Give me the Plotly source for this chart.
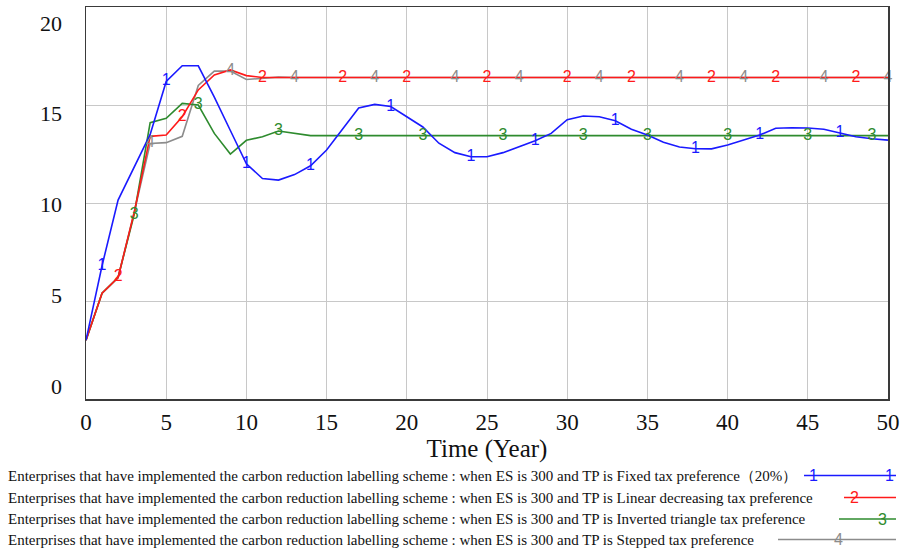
import plotly.graph_objects as go

# ---------------- data ----------------
years = list(range(0, 51))

fixed_tp = [3.0, 6.8, 10.15, 11.8, 13.5, 16.2, 17.0, 17.0, 15.4, 13.7,
            12.0, 11.25, 11.17, 11.45, 11.9, 12.7, 13.75, 14.85, 15.03, 14.92,
            14.4, 13.88, 13.05, 12.57, 12.36, 12.36, 12.57, 12.87, 13.18, 13.55,
            14.25, 14.44, 14.4, 14.2, 13.76, 13.47, 13.1, 12.86, 12.77, 12.76,
            12.96, 13.21, 13.47, 13.81, 13.84, 13.83, 13.76, 13.57, 13.38, 13.28,
            13.21]

linear_tp = [3.0, 5.4, 6.2, 9.5, 13.4, 13.47, 14.4, 15.77, 16.53, 16.79,
             16.5, 16.4, 16.4, 16.4, 16.4, 16.4, 16.4, 16.4, 16.4, 16.4,
             16.4, 16.4, 16.4, 16.4, 16.4, 16.4, 16.4, 16.4, 16.4, 16.4,
             16.4, 16.4, 16.4, 16.4, 16.4, 16.4, 16.4, 16.4, 16.4, 16.4,
             16.4, 16.4, 16.4, 16.4, 16.4, 16.4, 16.4, 16.4, 16.4, 16.4,
             16.4]

inverted_tp = [3.0, 5.4, 6.2, 9.4, 14.1, 14.32, 15.08, 15.0, 13.55, 12.5,
               13.2, 13.38, 13.67, 13.55, 13.44, 13.44, 13.44, 13.44, 13.44, 13.44,
               13.44, 13.44, 13.44, 13.44, 13.44, 13.44, 13.44, 13.44, 13.44, 13.44,
               13.44, 13.44, 13.44, 13.44, 13.44, 13.44, 13.44, 13.44, 13.44, 13.44,
               13.44, 13.44, 13.44, 13.44, 13.44, 13.44, 13.44, 13.44, 13.44, 13.44,
               13.44]

stepped_tp = [3.0, 5.4, 6.2, 9.5, 13.04, 13.08, 13.4, 16.0, 16.73, 16.73,
              16.3, 16.36, 16.42, 16.4, 16.4, 16.4, 16.4, 16.4, 16.4, 16.4,
              16.4, 16.4, 16.4, 16.4, 16.4, 16.4, 16.4, 16.4, 16.4, 16.4,
              16.4, 16.4, 16.4, 16.4, 16.4, 16.4, 16.4, 16.4, 16.4, 16.4,
              16.4, 16.4, 16.4, 16.4, 16.4, 16.4, 16.4, 16.4, 16.4, 16.4,
              16.4]

# years where the series number labels sit on each line
marks_fixed = [1, 5, 10, 14, 19, 24, 28, 33, 38, 42, 47]
marks_linear = [2, 6, 11, 16, 20, 25, 30, 34, 39, 43, 48]
marks_inverted = [3, 7, 12, 17, 21, 26, 31, 35, 40, 45, 49]
marks_stepped = [4, 9, 13, 18, 23, 27, 32, 37, 41, 46, 50]

x_ticks = [0, 5, 10, 15, 20, 25, 30, 35, 40, 45, 50]
y_ticks = [0, 5, 10, 15, 20]

prefix = ("Enterprises that have implemented the carbon reduction labelling scheme : "
          "when ES is 300 and TP is ")
legend_names = [prefix + "Fixed tax preference（20%）",
                prefix + "Linear decreasing tax preference",
                prefix + "Inverted triangle tax preference",
                prefix + "Stepped tax preference"]
series_ids = ["1", "2", "3", "4"]
colors = ["#1a1aff", "#ff1a1a", "#2e8b2e", "#8c8c8c"]

series = [fixed_tp, linear_tp, inverted_tp, stepped_tp]
marks = [marks_fixed, marks_linear, marks_inverted, marks_stepped]

# ---------------- figure ----------------
W, H = 904, 551
L, R, T, B = 86, 16, 7, 152
PW, PH = W - L - R, H - T - B


def px_x(p):
    return (p - L) / PW


def px_y(p):
    return (H - B - p) / PH


fig = go.Figure()
draw_order = [3, 2, 1, 0]
for i in draw_order:
    fig.add_trace(go.Scatter(x=years, y=series[i], mode="lines",
                             line=dict(color=colors[i], width=1.6),
                             name=legend_names[i], showlegend=False,
                             hoverinfo="skip"))
for i in draw_order:
    fig.add_trace(go.Scatter(x=marks[i], y=[series[i][years.index(m)] for m in marks[i]],
                             mode="text", text=[series_ids[i]] * len(marks[i]),
                             textposition="middle center",
                             textfont=dict(family="Liberation Sans", size=16, color=colors[i]),
                             showlegend=False, hoverinfo="skip", cliponaxis=False))

annotations = []
# y tick labels (Vensim-style spread placement)
for v in y_ticks:
    annotations.append(dict(x=px_x(64), y=v, xref="paper", yref="y", text=str(v),
                            showarrow=False, xanchor="right", yanchor="middle",
                            yshift=13 - 1.45 * v,
                            font=dict(family="Liberation Serif", size=22, color="#111")))

# legend rows
row_y = [475.5, 497.5, 519, 539.5]
seg = [(804, 896, [813, 889]), (844, 896, [854]), (839, 896, [882]), (778, 896, [838])]
shapes = []
for i in range(4):
    annotations.append(dict(x=px_x(6), y=px_y(row_y[i]), xref="paper", yref="paper",
                            text=legend_names[i], showarrow=False, xanchor="left",
                            yanchor="middle",
                            font=dict(family="Liberation Serif", size=15, color="#111")))
    x0, x1, mk = seg[i]
    shapes.append(dict(type="line", xref="paper", yref="paper",
                       x0=px_x(x0), x1=px_x(x1), y0=px_y(row_y[i]), y1=px_y(row_y[i]),
                       line=dict(color=colors[i], width=1.4)))
    for m in mk:
        annotations.append(dict(x=px_x(m), y=px_y(row_y[i]), xref="paper", yref="paper",
                                text=series_ids[i], showarrow=False, xanchor="center",
                                yanchor="middle",
                                font=dict(family="Liberation Sans", size=16, color=colors[i])))

fig.update_layout(
    width=W, height=H,
    margin=dict(l=L, r=R, t=T, b=B, autoexpand=False),
    paper_bgcolor="white", plot_bgcolor="white",
    showlegend=False,
    hovermode=False,
    annotations=annotations,
    shapes=shapes,
    xaxis=dict(range=[0, 50], tickvals=x_ticks, ticktext=[str(v) for v in x_ticks],
               showgrid=True, gridcolor="#c8c8c8", gridwidth=1,
               showline=True, linecolor="#3a3a3a", linewidth=1.5, mirror=True,
               zeroline=False, ticks="", ticklabelstandoff=2,
               tickfont=dict(family="Liberation Serif", size=23, color="#111"),
               title=dict(text="Time (Year)", standoff=2,
                          font=dict(family="Liberation Serif", size=25, color="#111"))),
    yaxis=dict(range=[0, 20], tickvals=y_ticks, showticklabels=False,
               showgrid=True, gridcolor="#c8c8c8", gridwidth=1,
               showline=True, linecolor="#3a3a3a", linewidth=1.5, mirror=True,
               zeroline=False, ticks=""),
)

fig.write_html("out.html",
               config={"displayModeBar": False, "staticPlot": True},
               post_script="document.body.style.margin='0';"
                           "document.body.style.overflow='hidden';")
